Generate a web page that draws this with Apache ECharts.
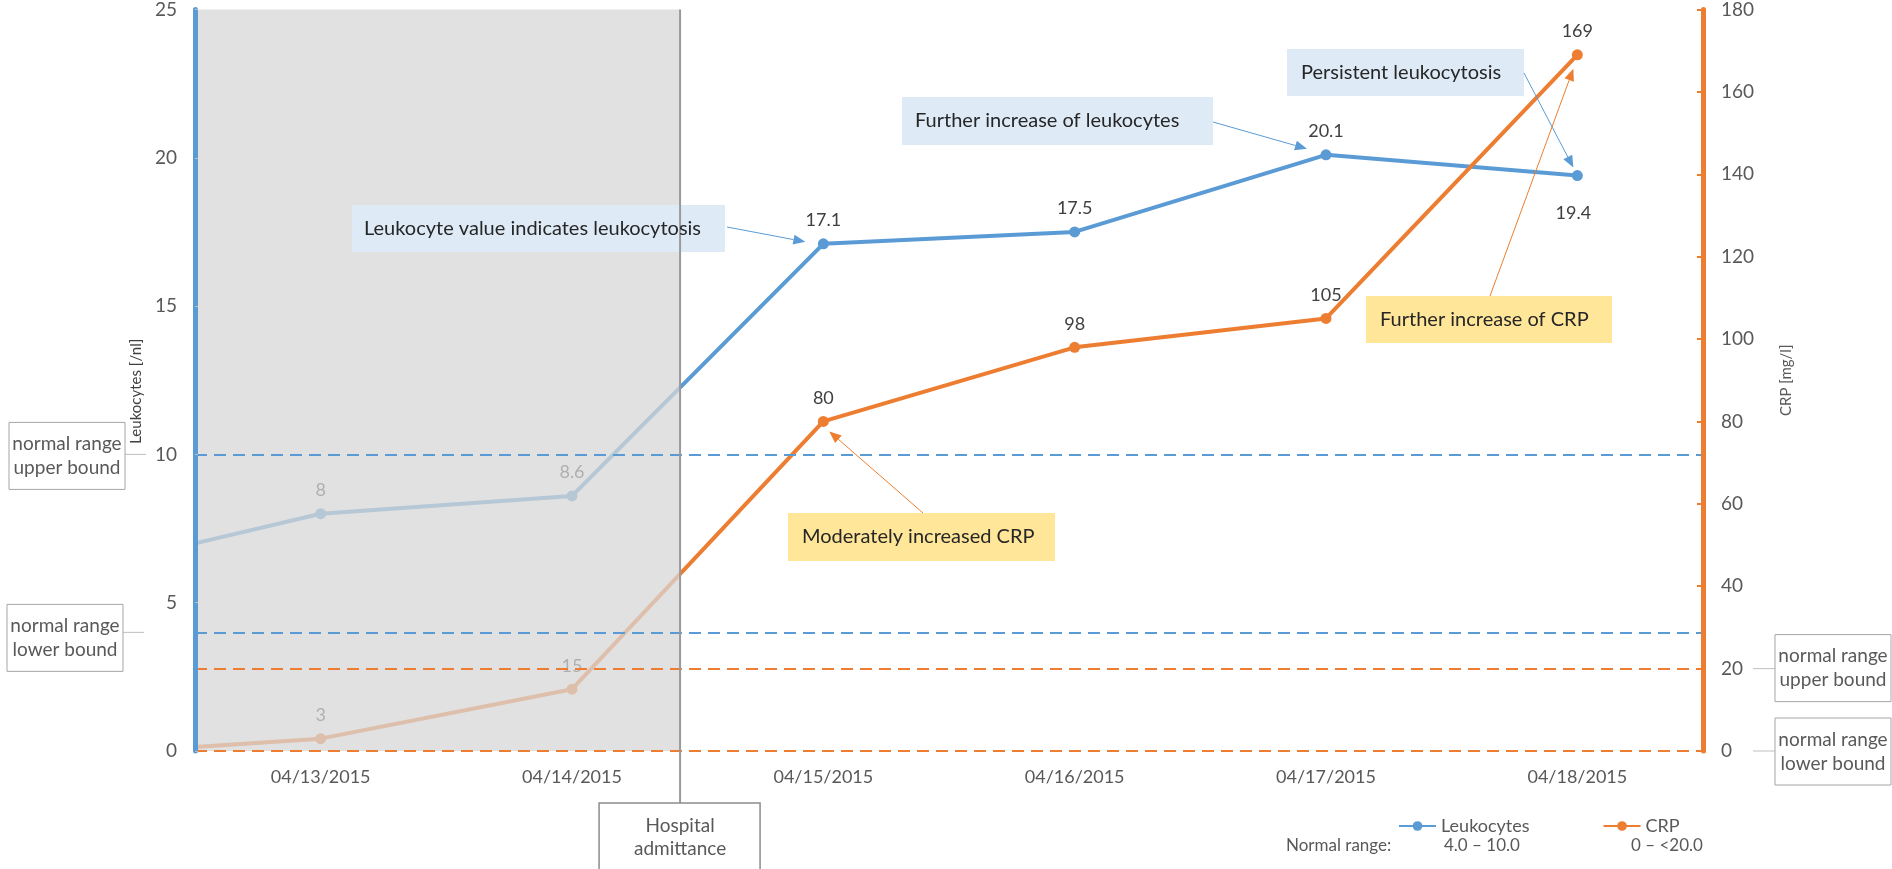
<!DOCTYPE html>
<html><head><meta charset="utf-8">
<script src="https://cdn.jsdelivr.net/npm/echarts@6/dist/echarts.min.js"></script>
<style>html,body{margin:0;padding:0;background:#fff}#c{width:1892px;height:869px}</style>
</head><body><div id="c"></div>
<script>
// ---------- data ----------
const categories = ['04/13/2015', '04/14/2015', '04/15/2015', '04/16/2015', '04/17/2015', '04/18/2015'];
const leukocytes = [8, 8.6, 17.1, 17.5, 20.1, 19.4];
const crp = [3, 15, 80, 98, 105, 169];
// values at which the lines enter the chart at its left edge (earlier, off-chart reading)
const leukocytesEdge = 7.0;
const crpEdge = 1.0;
const leukoAxis = { min: 0, max: 25, interval: 5 };
const crpAxis = { min: 0, max: 180, interval: 20 };
const leukoNormal = [4.0, 10.0];
const crpNormal = [0, 20];
const admittanceIndex = 1.43;   // position of hospital admittance between 04/14 and 04/15
const seriesNames = ['Leukocytes', 'CRP'];
const normalRangeTexts = ['Normal range:', '4.0 – 10.0', '0 – <20.0'];
const annotations = [
  { text: 'Leukocyte value indicates leukocytosis', series: 0, idx: 2 },
  { text: 'Further increase of leukocytes', series: 0, idx: 4 },
  { text: 'Persistent leukocytosis', series: 0, idx: 5 },
  { text: 'Further increase of CRP', series: 1, idx: 5 },
  { text: 'Moderately increased CRP', series: 1, idx: 2 }
];
const boundTexts = ['normal range\nupper bound', 'normal range\nlower bound'];

// ---------- style ----------
const BLUE = '#5b9bd5', ORANGE = '#ed7d31', TXT = '#595959', DARK = '#404040';
const FONT = 'Lato';

function seriesData(edge, vals, belowIdx) {
  const d = [{ value: [-0.5, edge], symbol: 'none', label: { show: false } }];
  vals.forEach((v, i) => {
    const item = { value: [i, v] };
    if (i === belowIdx) item.label = { position: 'bottom', distance: 23, offset: [-4, 0] };
    d.push(item);
  });
  return d;
}

const chart = echarts.init(document.getElementById('c'));
const lineCommon = {
  type: 'line', xAxisIndex: 1, symbol: 'circle', symbolSize: 11, z: 2,
  label: { show: true, position: 'top', distance: 9, fontSize: 18, color: DARK, fontFamily: FONT,
           formatter: p => String(p.value[1]) }
};
chart.setOption({
  animation: false,
  textStyle: { fontFamily: FONT },
  grid: { left: 195, right: 189, top: 9, bottom: 118 },
  legend: {
    data: seriesNames, left: 1393, top: 812, itemWidth: 37, itemHeight: 12, itemGap: 73,
    textStyle: { fontSize: 18, color: TXT, fontFamily: FONT }, selectedMode: false
  },
  xAxis: [
    { type: 'category', data: categories, boundaryGap: true,
      axisLine: { show: false }, axisTick: { show: false },
      axisLabel: { margin: 17, fontSize: 18, color: TXT } },
    { type: 'value', min: -0.5, max: 5.5, show: false }
  ],
  yAxis: [
    { type: 'value', min: leukoAxis.min, max: leukoAxis.max, interval: leukoAxis.interval, z: 10,
      name: 'Leukocytes [/nl]', nameLocation: 'middle', nameGap: 50, nameRotate: 90,
      nameTextStyle: { fontSize: 15, color: DARK, padding: [0, 22, 0, 0] },
      axisLine: { show: true, onZero: false, lineStyle: { color: BLUE, width: 5 } },
      axisTick: { show: true, inside: true, length: 3, lineStyle: { color: '#bfbfbf', width: 1 } },
      axisLabel: { margin: 18, fontSize: 19, color: TXT },
      splitLine: { show: false } },
    { type: 'value', min: crpAxis.min, max: crpAxis.max, interval: crpAxis.interval, position: 'right', z: 10,
      name: 'CRP [mg/l]', nameLocation: 'middle', nameGap: 76, nameRotate: 90,
      nameTextStyle: { fontSize: 15, color: TXT },
      axisLine: { show: true, onZero: false, lineStyle: { color: ORANGE, width: 5 } },
      axisTick: { show: true, inside: true, length: 6, lineStyle: { color: ORANGE, width: 2 } },
      axisLabel: { margin: 18, fontSize: 19, color: TXT },
      splitLine: { show: false } }
  ],
  series: [
    Object.assign({}, lineCommon, { name: seriesNames[0], yAxisIndex: 0,
      data: seriesData(leukocytesEdge, leukocytes, 5),
      itemStyle: { color: BLUE }, lineStyle: { color: BLUE, width: 4 } }),
    Object.assign({}, lineCommon, { name: seriesNames[1], yAxisIndex: 1,
      data: seriesData(crpEdge, crp, -1),
      itemStyle: { color: ORANGE }, lineStyle: { color: ORANGE, width: 4 } }),
    { type: 'line', name: 'overlay', xAxisIndex: 1, yAxisIndex: 0, data: [], z: 4, silent: true,
      markArea: { silent: true, z: 4, itemStyle: { color: 'rgba(214,214,214,0.74)' },
        data: [[{ xAxis: -0.5, yAxis: leukoAxis.min }, { xAxis: admittanceIndex, yAxis: leukoAxis.max }]] } },
    { type: 'line', name: 'refL', xAxisIndex: 1, yAxisIndex: 0, data: [], z: 5, silent: true,
      markLine: { silent: true, z: 5, symbol: 'none', label: { show: false },
        lineStyle: { color: BLUE, type: [12, 7], width: 2 },
        data: leukoNormal.map(v => ({ yAxis: v })) } },
    { type: 'line', name: 'refC', xAxisIndex: 1, yAxisIndex: 1, data: [], z: 5, silent: true,
      markLine: { silent: true, z: 5, symbol: 'none', label: { show: false },
        lineStyle: { color: ORANGE, type: [12, 7], width: 2 },
        data: crpNormal.map(v => ({ yAxis: v })) } }
  ]
});

// ---------- annotations (positioned from the axes' scales) ----------
function px(seriesIndex, x, y) { return chart.convertToPixel({ seriesIndex }, [x, y]); }
function arrow(x1, y1, x2, y2, color) {
  const dx = x2 - x1, dy = y2 - y1, L = Math.hypot(dx, dy), ux = dx / L, uy = dy / L;
  const hl = 12, hw = 5;
  const bx = x2 - ux * hl, by = y2 - uy * hl;
  return [
    { type: 'line', z: 100, shape: { x1, y1, x2: bx, y2: by }, style: { stroke: color, lineWidth: 1 } },
    { type: 'polygon', z: 100, shape: { points: [[x2, y2], [bx - uy * hw, by + ux * hw], [bx + uy * hw, by - ux * hw]] },
      style: { fill: color } }
  ];
}
function box(x, y, w, h, fill, text, tx, color) {
  return [
    { type: 'rect', z: 100, shape: { x, y, width: w, height: h }, style: { fill } },
    { type: 'text', z: 101, x: tx, y: y + h / 2, style: { text, font: '20px ' + FONT, fill: color || '#262626', verticalAlign: 'middle' } }
  ];
}
const G = [];
const series = [leukocytes, crp];
// box layout: [x, y, w, h, textX, tailX, tailY, tipOffsetX, tipOffsetY]
const annLayout = [
  [352, 205, 373, 47, 364, 727, 227, -18, -2],
  [902, 97, 311, 48, 915, 1213, 122, -19, -6],
  [1287, 49, 237, 47, 1301, 1524, 73, -4, -8],
  [1366, 296, 246, 47, 1380, 1490, 296, -4, 14],
  [788, 513, 267, 48, 802, 923, 513, 6, 10]
];
annotations.forEach((a, k) => {
  const L = annLayout[k];
  const p = px(a.series, a.idx, series[a.series][a.idx]);
  const col = a.series === 0 ? BLUE : ORANGE;
  const fill = a.series === 0 ? '#deebf7' : '#ffe699';
  G.push(...box(L[0], L[1], L[2], L[3], fill, a.text, L[4]));
  G.push(...arrow(L[5], L[6], p[0] + L[7], p[1] + L[8], col));
});

// hospital admittance
const adm = px(0, admittanceIndex, leukoAxis.max);
const admTop = 803;
G.push({ type: 'line', z: 100, shape: { x1: adm[0], y1: adm[1], x2: adm[0], y2: admTop }, style: { stroke: '#9a9a9a', lineWidth: 2 } });
G.push({ type: 'rect', z: 100, shape: { x: adm[0] - 81, y: admTop, width: 161, height: 90 }, style: { fill: '#fff', stroke: '#8c8c8c', lineWidth: 1.5 } });
G.push({ type: 'text', z: 101, x: adm[0], y: admTop + 34, style: { text: 'Hospital\nadmittance', font: '19px ' + FONT, fill: TXT, align: 'center', verticalAlign: 'middle', lineHeight: 23 } });

// normal range bound boxes
function boundBox(cx, cy, text) {
  return [
    { type: 'rect', z: 100, shape: { x: cx - 58, y: cy - 33, width: 116, height: 67 }, style: { fill: '#fff', stroke: '#a6a6a6', lineWidth: 1 } },
    { type: 'text', z: 101, x: cx, y: cy + 0.5, style: { text, font: '19px ' + FONT, fill: TXT, align: 'center', verticalAlign: 'middle', lineHeight: 24 } }
  ];
}
const yU = px(0, 0, leukoNormal[1])[1], yLo = px(0, 0, leukoNormal[0])[1];
G.push({ type: 'line', z: 100, shape: { x1: 125, y1: yU, x2: 146, y2: yU }, style: { stroke: '#bfbfbf', lineWidth: 1 } });
G.push(...boundBox(67, yU + 1, boundTexts[0]));
G.push({ type: 'line', z: 100, shape: { x1: 123, y1: yLo, x2: 144, y2: yLo }, style: { stroke: '#bfbfbf', lineWidth: 1 } });
G.push(...boundBox(65, yLo + 5, boundTexts[1]));
const cU = px(1, 0, crpNormal[1])[1], cLo = px(1, 0, crpNormal[0])[1];
G.push({ type: 'line', z: 100, shape: { x1: 1753, y1: cU, x2: 1775, y2: cU }, style: { stroke: '#bfbfbf', lineWidth: 1 } });
G.push(...boundBox(1833, cU - 1, boundTexts[0]));
G.push({ type: 'line', z: 100, shape: { x1: 1753, y1: cLo, x2: 1775, y2: cLo }, style: { stroke: '#bfbfbf', lineWidth: 1 } });
G.push(...boundBox(1833, cLo, boundTexts[1]));

// normal range row under legend
[[1286, normalRangeTexts[0]], [1444, normalRangeTexts[1]], [1631, normalRangeTexts[2]]].forEach(([x, t]) => {
  G.push({ type: 'text', z: 101, x, y: 846, style: { text: t, font: '17px ' + FONT, fill: TXT, verticalAlign: 'middle' } });
});

chart.setOption({ graphic: G });
</script></body></html>
